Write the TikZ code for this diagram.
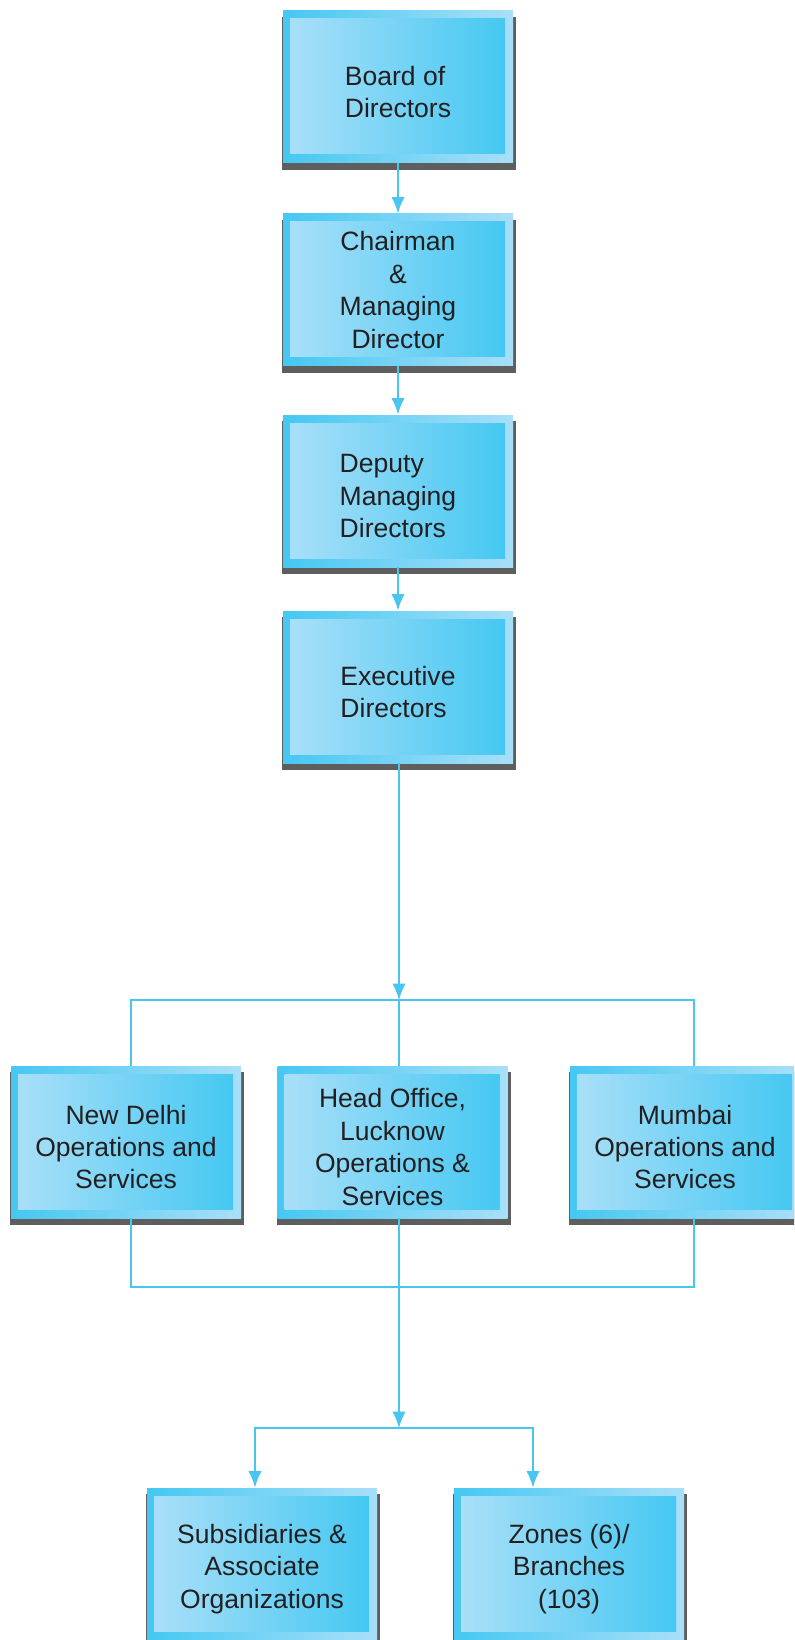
\documentclass[tikz,border=0pt]{standalone}
\usepackage{fontspec}
\setmainfont{Liberation Sans}
\usetikzlibrary{arrows.meta}

\definecolor{cyandeep}{HTML}{45C8F2}
\definecolor{cyanpale}{HTML}{A9DFF8}
\definecolor{linkblue}{HTML}{48C6F0}
\definecolor{shadowgray}{HTML}{5E5E5E}
\definecolor{inkdark}{HTML}{231F20}

\tikzset{
  orgframe/.style={minimum width=172.5pt, minimum height=114pt, inner sep=0pt},
  orgtext/.style={inner sep=0pt, text=inkdark, font=\fontsize{19.9}{24.3}\selectfont, shift={(0,-5)}},
  link/.style={draw=linkblue, line width=1.5pt},
  flow/.style={-{Latex[length=12.5pt,width=10pt]}}
}

% #1 name, #2 x, #3 y (centre), #4 text options, #5 label
\newcommand{\orgbox}[5]{%
  \fill[shadowgray] (#2-116,#3-70) rectangle (#2+118,#3+83);
  \shade[left color=cyandeep,right color=cyanpale] (#2-115,#3-76) rectangle (#2+115,#3+76);
  \shade[left color=cyanpale,right color=cyandeep] (#2-108,#3-68) rectangle (#2+107,#3+67);
  \node[orgframe,label={[orgtext,#4]center:#5}] (#1) at (#2,#3) {};}

\begin{document}
\begin{tikzpicture}[x=0.75pt,y=0.75pt,yscale=-1,xscale=1]
                \useasboundingbox (0,0) rectangle (794,1640);
                \clip (0,0) rectangle (794,1640);

                \orgbox{bod}{398}{87}{align=left}{Board of\\Directors}
                \orgbox{cmd}{398}{290}{align=center,shift={(0,5)}}{Chairman\\\&\\Managing\\Director}
                \orgbox{dmd}{398}{491}{align=left}{Deputy\\Managing\\Directors}
                \orgbox{ed}{398}{687}{align=left}{Executive\\Directors}
                \orgbox{delhi}{126}{1142}{align=center}{New Delhi\\Operations and\\Services}
                \orgbox{lucknow}{392.5}{1142}{align=center}{Head Office,\\Lucknow\\Operations \&\\Services}
                \orgbox{mumbai}{685}{1142}{align=center}{Mumbai\\Operations and\\Services}
                \orgbox{subs}{262}{1564}{align=center}{Subsidiaries \&\\Associate\\Organizations}
                \orgbox{zones}{569}{1564}{align=center}{Zones (6)/\\Branches\\(103)}

                \draw [link,flow] (bod) -- (cmd);
                \draw [link,flow] (cmd) -- (dmd);
                \draw [link,flow] (dmd) -- (ed);

                % regional offices
                \path ([shift={(1,237)}]ed.south) coordinate (topbus);
                \draw [link,flow] ([shift={(1,0)}]ed.south) -- (topbus);
                \draw [link] ([shift={(5,0)}]delhi.north) |- (topbus) -| ([shift={(9,0)}]mumbai.north);
                \draw [link] (topbus) -- ([shift={(6.5,0)}]lucknow.north);

                \path ([shift={(6.5,69)}]lucknow.south) coordinate (lowbus);
                \path ([shift={(6.5,210)}]lucknow.south) coordinate (lowsplit);
                \draw [link] ([shift={(5,0)}]delhi.south) |- (lowbus) -| ([shift={(9,0)}]mumbai.south);
                \draw [link,flow] ([shift={(6.5,0)}]lucknow.south) -- (lowsplit);

                \draw [link,flow] (lowsplit) -| ([shift={(-7,0)}]subs.north);
                \draw [link,flow] (lowsplit) -| ([shift={(-36,0)}]zones.north);
\end{tikzpicture}
\end{document}
